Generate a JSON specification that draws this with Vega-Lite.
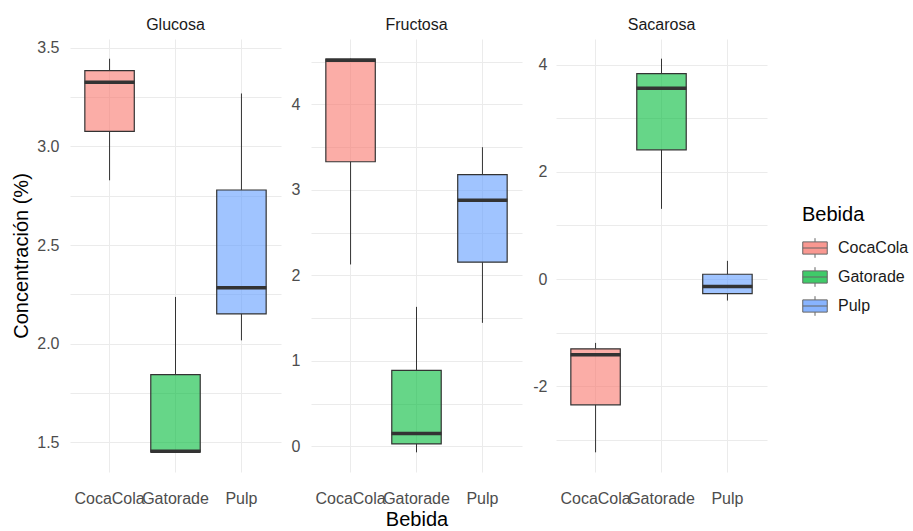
{
  "$schema": "https://vega.github.io/schema/vega-lite/v6.json",
  "padding": {"left": 11, "top": 17, "right": 5, "bottom": 0},
  "background": "white",
  "data": {"values": [
    {"Azucar": "Glucosa", "Bebida": "CocaCola", "lower": 2.828, "q1": 3.076, "median": 3.325, "q3": 3.384, "upper": 3.444},
    {"Azucar": "Glucosa", "Bebida": "Gatorade", "lower": 1.450, "q1": 1.452, "median": 1.455, "q3": 1.843, "upper": 2.237},
    {"Azucar": "Glucosa", "Bebida": "Pulp", "lower": 2.017, "q1": 2.151, "median": 2.284, "q3": 2.779, "upper": 3.268},
    {"Azucar": "Fructosa", "Bebida": "CocaCola", "lower": 2.128, "q1": 3.33, "median": 4.516, "q3": 4.530, "upper": 4.536},
    {"Azucar": "Fructosa", "Bebida": "Gatorade", "lower": -0.07, "q1": 0.028, "median": 0.149, "q3": 0.89, "upper": 1.632},
    {"Azucar": "Fructosa", "Bebida": "Pulp", "lower": 1.445, "q1": 2.155, "median": 2.88, "q3": 3.18, "upper": 3.50},
    {"Azucar": "Sacarosa", "Bebida": "CocaCola", "lower": -3.23, "q1": -2.345, "median": -1.41, "q3": -1.30, "upper": -1.19},
    {"Azucar": "Sacarosa", "Bebida": "Gatorade", "lower": 1.31, "q1": 2.41, "median": 3.56, "q3": 3.83, "upper": 4.11},
    {"Azucar": "Sacarosa", "Bebida": "Pulp", "lower": -0.40, "q1": -0.27, "median": -0.14, "q3": 0.09, "upper": 0.34}
  ]},
  "spacing": 10,
  "hconcat": [
    {
      "title": {"text": "Glucosa"},
      "width": 211, "height": 433,
      "transform": [{"filter": "datum.Azucar == 'Glucosa'"}],
      "encoding": {
        "x": {"field": "Bebida", "type": "nominal", "sort": ["CocaCola", "Gatorade", "Pulp"],
              "scale": {"paddingInner": 0, "paddingOuter": 0.1},
              "axis": {"title": null}}
      },
      "layer": [
        {"mark": {"type": "rule", "color": "#333333", "strokeWidth": 1},
         "encoding": {"y": {"field": "lower", "type": "quantitative",
             "scale": {"domain": [1.350, 3.544], "nice": false, "zero": false},
             "axis": {"title": "Concentración (%)", "values": [1.5, 1.75, 2.0, 2.25, 2.5, 2.75, 3.0, 3.25, 3.5],
                      "labelExpr": "abs(datum.value*2 - round(datum.value*2)) < 0.001 ? format(datum.value, '.1f') : ''"}},
           "y2": {"field": "q1"}}},
        {"mark": {"type": "rule", "color": "#333333", "strokeWidth": 1},
         "encoding": {"y": {"field": "q3", "type": "quantitative"}, "y2": {"field": "upper"}}},
        {"mark": {"type": "bar", "width": {"band": 0.75}, "stroke": "#333333", "strokeWidth": 1.2, "fillOpacity": 0.6},
         "encoding": {"y": {"field": "q1", "type": "quantitative"}, "y2": {"field": "q3"},
           "fill": {"field": "Bebida", "type": "nominal"}}},
        {"mark": {"type": "tick", "color": "#333333", "thickness": 3.5, "size": 50, "opacity": 1},
         "encoding": {"y": {"field": "median", "type": "quantitative"}}}
      ]
    },
    {
      "title": {"text": "Fructosa"},
      "width": 211, "height": 433,
      "transform": [{"filter": "datum.Azucar == 'Fructosa'"}],
      "encoding": {
        "x": {"field": "Bebida", "type": "nominal", "sort": ["CocaCola", "Gatorade", "Pulp"],
              "scale": {"paddingInner": 0, "paddingOuter": 0.1},
              "axis": {"title": "Bebida"}}
      },
      "layer": [
        {"mark": {"type": "rule", "color": "#333333", "strokeWidth": 1},
         "encoding": {"y": {"field": "lower", "type": "quantitative",
             "scale": {"domain": [-0.300, 4.766], "nice": false, "zero": false},
             "axis": {"title": null, "values": [0, 0.5, 1, 1.5, 2, 2.5, 3, 3.5, 4, 4.5],
                      "labelExpr": "abs(datum.value - round(datum.value)) < 0.001 ? '' + datum.value : ''"}},
           "y2": {"field": "q1"}}},
        {"mark": {"type": "rule", "color": "#333333", "strokeWidth": 1},
         "encoding": {"y": {"field": "q3", "type": "quantitative"}, "y2": {"field": "upper"}}},
        {"mark": {"type": "bar", "width": {"band": 0.75}, "stroke": "#333333", "strokeWidth": 1.2, "fillOpacity": 0.6},
         "encoding": {"y": {"field": "q1", "type": "quantitative"}, "y2": {"field": "q3"},
           "fill": {"field": "Bebida", "type": "nominal"}}},
        {"mark": {"type": "tick", "color": "#333333", "thickness": 3.5, "size": 50, "opacity": 1},
         "encoding": {"y": {"field": "median", "type": "quantitative"}}}
      ]
    },
    {
      "title": {"text": "Sacarosa"},
      "width": 211, "height": 433,
      "transform": [{"filter": "datum.Azucar == 'Sacarosa'"}],
      "encoding": {
        "x": {"field": "Bebida", "type": "nominal", "sort": ["CocaCola", "Gatorade", "Pulp"],
              "scale": {"paddingInner": 0, "paddingOuter": 0.1},
              "axis": {"title": null}}
      },
      "layer": [
        {"mark": {"type": "rule", "color": "#333333", "strokeWidth": 1},
         "encoding": {"y": {"field": "lower", "type": "quantitative",
             "scale": {"domain": [-3.597, 4.477], "nice": false, "zero": false},
             "axis": {"title": null, "labelPadding": 9, "values": [-3, -2, -1, 0, 1, 2, 3, 4],
                      "labelExpr": "abs(datum.value/2 - round(datum.value/2)) < 0.001 ? '' + datum.value : ''"}},
           "y2": {"field": "q1"}}},
        {"mark": {"type": "rule", "color": "#333333", "strokeWidth": 1},
         "encoding": {"y": {"field": "q3", "type": "quantitative"}, "y2": {"field": "upper"}}},
        {"mark": {"type": "bar", "width": {"band": 0.75}, "stroke": "#333333", "strokeWidth": 1.2, "fillOpacity": 0.6},
         "encoding": {"y": {"field": "q1", "type": "quantitative"}, "y2": {"field": "q3"},
           "fill": {"field": "Bebida", "type": "nominal",
             "scale": {"domain": ["CocaCola", "Gatorade", "Pulp"], "range": ["#F8766D", "#00BA38", "#619CFF"]},
             "legend": {"title": "Bebida", "orient": "none", "legendX": 732, "legendY": 166,
                        "symbolType": "M-1,-0.5H1V0.5H-1Z M-1,0H1 M0,-0.5V-0.8 M0,0.5V0.8",
                        "symbolSize": 600, "symbolStrokeColor": "#333333", "symbolStrokeWidth": 1,
                        "symbolOpacity": 0.75, "rowPadding": 4, "labelOffset": 10}}}},
        {"mark": {"type": "tick", "color": "#333333", "thickness": 3.5, "size": 50, "opacity": 1},
         "encoding": {"y": {"field": "median", "type": "quantitative"}}}
      ]
    }
  ],
  "resolve": {"scale": {"y": "independent", "fill": "shared"}},
  "config": {
    "font": "Liberation Sans",
    "view": {"stroke": null},
    "title": {"fontSize": 16, "fontWeight": "normal", "color": "#1A1A1A", "anchor": "middle", "offset": 6},
    "axis": {
      "grid": true, "gridColor": "#EBEBEB", "gridWidth": 1, "domain": false, "ticks": false,
      "labelFont": "Liberation Sans", "labelFontSize": 16, "labelColor": "#4D4D4D", "labelPadding": 11,
      "titleFont": "Liberation Sans", "titleFontSize": 20, "titleFontWeight": "normal", "titleColor": "#000000"
    },
    "axisX": {"bandPosition": 0.5, "labelAngle": 0, "labelOverlap": false, "labelBound": false, "labelLimit": 200, "labelPadding": 18, "titlePadding": 3},
    "axisY": {"titlePadding": 5},
    "legend": {"titleFont": "Liberation Sans", "titleFontSize": 20, "titleFontWeight": "normal", "titleColor": "#000000",
               "labelFont": "Liberation Sans", "labelFontSize": 16, "labelColor": "#1A1A1A", "titlePadding": 10}
  }
}
